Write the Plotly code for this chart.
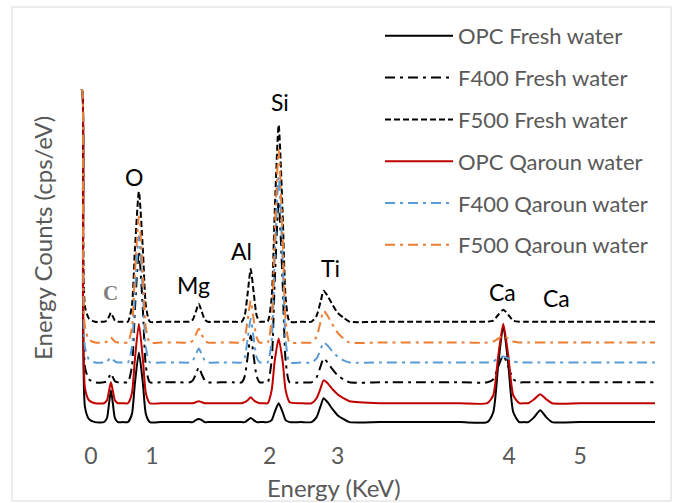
import plotly.graph_objects as go

# Channel positions (arbitrary display channel units along the energy axis)
channel = [0, 1, 2, 4, 8, 14,
           23, 26, 28, 30, 32, 34, 37,
           42,
           47, 51, 54, 58, 62, 65, 69,
           80, 98,
           109, 112, 115, 118, 121, 124, 127,
           140, 152,
           161, 164, 167, 170, 173, 176, 179,
           183,
           187, 191, 194, 198, 202, 205, 209,
           220,
           231, 236, 240, 243, 247, 252, 257, 263, 269,
           300, 340, 380,
           407, 413, 418, 423, 428, 433, 439,
           444,
           448, 454, 460, 466, 472,
           500, 540, 575]

# Energy counts (offset spectra, arbitrary units)
opc_fresh = [352, 352, 138, 33, 21, 18,
             18, 22, 36, 50, 36, 22, 18,
             18,
             18, 26, 57, 88, 57, 26, 18,
             18, 18,
             18, 18, 20, 21, 20, 18, 18,
             18, 18,
             18, 18, 20, 22, 20, 18, 18,
             18,
             18, 20, 28, 37, 28, 20, 18,
             18,
             18, 23, 34, 42, 38, 31, 25, 21, 18,
             18, 18, 18,
             18, 28, 76, 115, 76, 28, 18,
             18,
             18, 23, 30, 23, 18,
             18, 18, 18]

f400_fresh = [352, 352, 178, 73, 61, 58,
              58, 59, 63, 67, 63, 59, 58,
              58,
              58, 74, 131, 190, 131, 74, 58,
              58, 58,
              58, 60, 66, 73, 66, 60, 58,
              58, 58,
              58, 64, 84, 105, 84, 64, 58,
              58,
              58, 80, 158, 240, 158, 80, 58,
              58,
              58, 63, 74, 82, 78, 71, 65, 61, 58,
              58, 58, 58,
              58, 61, 74, 85, 74, 61, 58,
              58,
              58, 58, 58, 58, 58,
              58, 58, 58]

f500_fresh = [352, 352, 239, 134, 122, 119,
              119, 120, 124, 128, 124, 120, 119,
              119,
              119, 135, 191, 250, 191, 135, 119,
              119, 119,
              119, 121, 129, 137, 129, 121, 119,
              119, 119,
              119, 125, 148, 172, 148, 125, 119,
              119,
              119, 143, 228, 317, 228, 143, 119,
              119,
              119, 125, 139, 150, 145, 136, 128, 123, 119,
              119, 119, 119,
              119, 120, 126, 131, 126, 120, 119,
              119,
              119, 119, 119, 119, 119,
              119, 119, 119]

opc_qaroun = [352, 352, 157, 52, 40, 37,
              37, 40, 49, 58, 49, 40, 37,
              37,
              37, 47, 81, 117, 81, 47, 37,
              37, 37,
              37, 37, 38, 39, 38, 37, 37,
              37, 37,
              37, 38, 40, 43, 40, 38, 37,
              37,
              37, 50, 79, 102, 79, 50, 38,
              37,
              37, 42, 52, 60, 57, 51, 46, 42, 39,
              37, 37, 37,
              37, 45, 85, 117, 85, 45, 37,
              37,
              37, 41, 46, 41, 37,
              37, 37, 37]

f400_qaroun = [352, 352, 198, 93, 81, 78,
               78, 79, 81, 83, 81, 79, 78,
               78,
               78, 93, 148, 205, 148, 93, 78,
               78, 78,
               78, 80, 86, 92, 86, 80, 78,
               78, 78,
               78, 83, 102, 122, 102, 83, 78,
               78,
               78, 100, 181, 265, 181, 100, 78,
               78,
               78, 82, 91, 98, 95, 89, 84, 80, 78,
               78, 78, 78,
               78, 79, 82, 84, 82, 79, 78,
               78,
               78, 78, 78, 78, 78,
               78, 78, 78]

f500_qaroun = [352, 352, 218, 113, 101, 98,
               98, 99, 101, 103, 101, 99, 98,
               98,
               98, 113, 168, 225, 168, 113, 98,
               98, 98,
               98, 100, 106, 112, 106, 100, 98,
               98, 98,
               98, 103, 121, 140, 121, 103, 98,
               98,
               98, 121, 205, 292, 205, 121, 98,
               98,
               98, 104, 119, 130, 125, 116, 108, 102, 98,
               98, 98, 98,
               98, 99, 102, 105, 102, 99, 98,
               98,
               98, 98, 98, 98, 98,
               98, 98, 98]

tick_positions = [10, 71, 189, 257, 429, 500]
tick_labels = ["0", "1", "2", "3", "4", "5"]

element_names = ["C", "O", "Mg", "Al", "Si", "Ti", "Ca", "Ca"]
element_x = [30, 53, 113, 161, 199, 250, 422, 476]
element_y = [148, 264, 156, 190, 340, 173, 149, 143]

series = [
    ("OPC Fresh water", opc_fresh, "#000000", "solid"),
    ("F400 Fresh water", f400_fresh, "#000000", "10px,5px,3px,5px"),
    ("F500 Fresh water", f500_fresh, "#000000", "6px,3px"),
    ("OPC Qaroun water", opc_qaroun, "#C00000", "solid"),
    ("F400 Qaroun water", f400_qaroun, "#5B9BD5", "10px,5px,3px,5px"),
    ("F500 Qaroun water", f500_qaroun, "#ED7D31", "10px,5px,3px,5px"),
]

FONT = "Lato, Calibri, sans-serif"
GRAY = "#595959"

fig = go.Figure()
for i, (name, vals, color, dash) in enumerate(series):
    fig.add_trace(go.Scatter(
        x=channel, y=vals, mode="lines", name=name,
        legendgroup=f"g{i}",
        line=dict(color=color, width=2, dash=dash, shape="spline", smoothing=0.6),
    ))

for name, ex, ey in zip(element_names, element_x, element_y):
    if name == "C":
        fnt = dict(family="Liberation Serif, Times New Roman, serif", size=21, color="#7F7F7F")
        txt = "<b>C</b>"
    else:
        fnt = dict(family=FONT, size=23, color="#000000")
        txt = name
    fig.add_annotation(x=ex, y=ey, text=txt, showarrow=False, font=fnt,
                       xanchor="center", yanchor="middle")

fig.add_annotation(xref="paper", yref="paper", x=(334 - 80) / 577, y=(440 - 487) / 352,
                   text="Energy (KeV)", showarrow=False,
                   font=dict(family=FONT, size=24, color=GRAY),
                   xanchor="center", yanchor="middle")
fig.add_annotation(xref="paper", yref="paper", x=(42 - 80) / 577, y=(440 - 238) / 352,
                   text="Energy Counts (cps/eV)", showarrow=False, textangle=-90,
                   font=dict(family=FONT, size=24, color=GRAY),
                   xanchor="center", yanchor="middle")

fig.add_shape(type="rect", xref="paper", yref="paper",
              x0=(12 - 80) / 577, x1=(671 - 80) / 577,
              y0=(440 - 501) / 352, y1=(440 - 7) / 352,
              line=dict(color="#D9D9D9", width=1), fillcolor="rgba(0,0,0,0)", layer="below")

fig.update_layout(
    width=678, height=503,
    margin=dict(l=80, r=21, t=88, b=63, autoexpand=False),
    paper_bgcolor="white", plot_bgcolor="white",
    font=dict(family=FONT, size=22, color=GRAY),
    showlegend=True,
    legend=dict(x=(380 - 80) / 577, y=(440 - 15) / 352, xanchor="left", yanchor="top",
                bgcolor="rgba(0,0,0,0)", tracegroupgap=10.2, itemwidth=68,
                maxheight=490,
                font=dict(family=FONT, size=22, color=GRAY)),
    xaxis=dict(range=[-1, 577], showgrid=False, zeroline=False, showline=False,
               tickmode="array", tickvals=tick_positions, ticktext=tick_labels,
               ticks="", tickfont=dict(family=FONT, size=23, color=GRAY)),
    yaxis=dict(range=[0, 354], showgrid=False, zeroline=False, showline=False,
               showticklabels=False, ticks=""),
)

fig.write_html("out.html")
